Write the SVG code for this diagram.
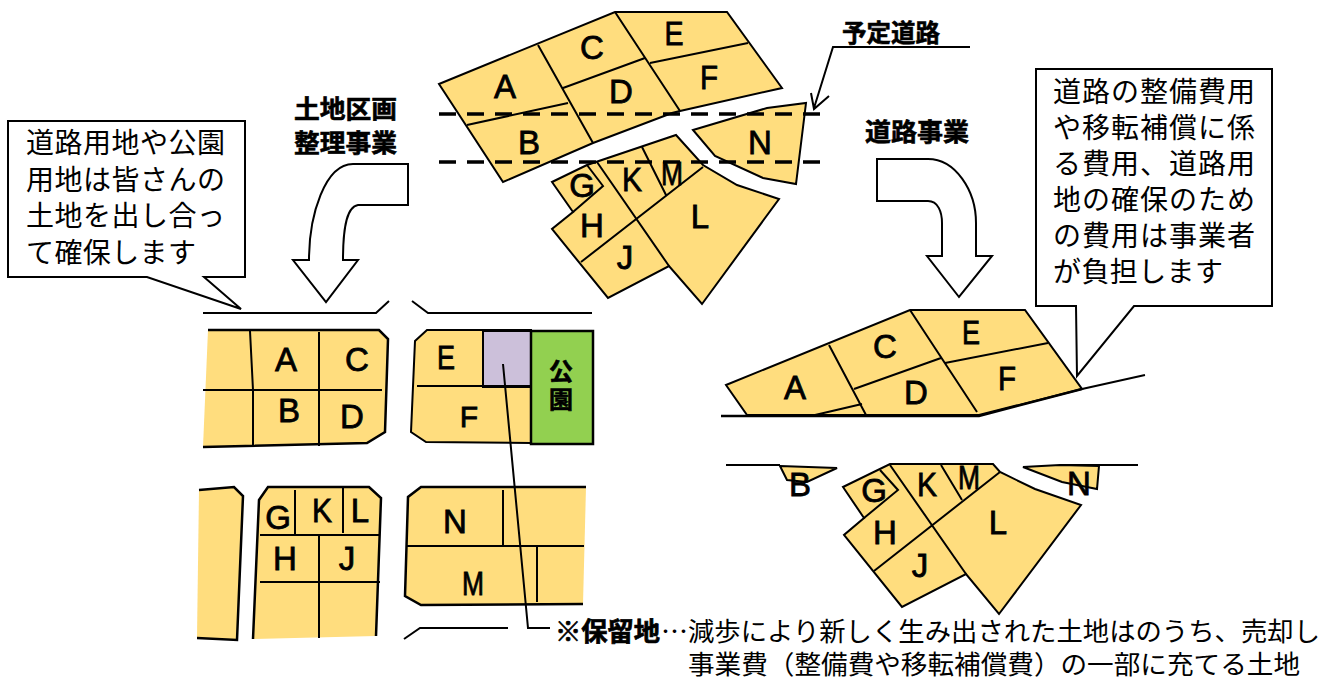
<svg xmlns="http://www.w3.org/2000/svg" width="1330" height="679" viewBox="0 0 1330 679">
<style>
.p{fill:#FFDD7E;stroke:#000;stroke-width:2;stroke-linejoin:miter}
.f{fill:#FFDD7E;stroke:none}
.l{fill:none;stroke:#000;stroke-width:2}
.t{fill:none;stroke:#000;stroke-width:2.5}
.d{fill:none;stroke:#000;stroke-width:3.5;stroke-dasharray:17 11}
.w{fill:#fff;stroke:#000;stroke-width:2}
text{font-family:"Liberation Sans",Arial,sans-serif;fill:#000}
.a{font-size:33px;text-anchor:middle;stroke:#000;stroke-width:.8}
.j{font-family:"Noto Sans CJK JP","Noto Sans",sans-serif;font-size:28px;font-weight:400}
.b{font-family:"Noto Sans CJK JP","Noto Sans",sans-serif;font-size:25px;font-weight:700;stroke:#000;stroke-width:.6}
.s{font-family:"Noto Sans CJK JP","Noto Sans",sans-serif;font-size:26px;font-weight:400}
</style>

<g id="plan-before">
<polygon class="p" points="439,84 615,12 727,12 782,88 680,111 672,113 593,143 503,182"/>
<path class="l" d="M538,45L593,143M615,12L680,111M563,88L645,58M650,63L748,43M467,125L568,103"/>
<polygon class="p" points="693,130 767,108 806,103 796,184 763,178 715,156"/>
<polygon class="p" points="552,182 587,165 676,135 703,165 737,185 779,199 702,304 669,266 608,298 552,229 573,212"/>
<path class="l" d="M587,165L603,186L573,212M597,162L669,266M642,147L666,195M703,167L581,262"/>
<text class="a" x="505" y="98">A</text><text class="a" x="592" y="59">C</text><text class="a" x="674" y="45" textLength="19" lengthAdjust="spacingAndGlyphs">E</text><text class="a" x="621" y="103">D</text><text class="a" x="709" y="89" textLength="18" lengthAdjust="spacingAndGlyphs">F</text><text class="a" x="529" y="154">B</text><text class="a" x="760" y="154">N</text><text class="a" x="582" y="197">G</text><text class="a" x="632" y="191" textLength="20" lengthAdjust="spacingAndGlyphs">K</text><text class="a" x="672" y="185" textLength="22" lengthAdjust="spacingAndGlyphs">M</text><text class="a" x="592" y="237">H</text><text class="a" x="700" y="228">L</text><text class="a" x="625" y="269">J</text>
<path class="d" d="M439,114H820M439,162H820"/>
</g>

<g id="label-yotei"><text class="b" x="842" y="42" textLength="98" lengthAdjust="spacingAndGlyphs">予定道路</text></g>
<g id="label-kukaku">
<text class="b" x="294" y="118" textLength="103" lengthAdjust="spacingAndGlyphs">土地区画</text>
<text class="b" x="294" y="152" textLength="103" lengthAdjust="spacingAndGlyphs">整理事業</text>
</g>
<g id="label-doro"><text class="b" x="865" y="141" textLength="104" lengthAdjust="spacingAndGlyphs">道路事業</text></g>

<g id="callout-left">
<polygon class="w" points="8,121 245,121 245,277 204,277 241,309 147,277 8,277"/>
<text class="j" x="26" y="153" textLength="199">道路用地や公園</text>
<text class="j" x="26" y="190" textLength="199">用地は皆さんの</text>
<text class="j" x="26" y="226" textLength="199">土地を出し合っ</text>
<text class="j" x="26" y="263" textLength="170">て確保します</text>
</g>

<g id="callout-right">
<polygon class="w" points="1036,69 1272,69 1272,306 1134,306 1077,376 1076,306 1036,306"/>
<text class="j" x="1053" y="102" textLength="202">道路の整備費用</text>
<text class="j" x="1053" y="138" textLength="202">や移転補償に係</text>
<text class="j" x="1053" y="174" textLength="202">る費用、道路用</text>
<text class="j" x="1053" y="210" textLength="202">地の確保のため</text>
<text class="j" x="1053" y="246" textLength="202">の費用は事業者</text>
<text class="j" x="1053" y="282" textLength="170">が負担します</text>
</g>

<g id="plan-kukaku">
<path class="l" d="M203,313H376L389,301M412,301L428,313H592M404,639L420,628H508"/>
<g id="block-ac">
<polygon class="f" points="208,330 379,330 388,339 385,432 367,443 203,447"/>
<path class="t" d="M208,330H379L388,339L385,432L367,443L203,447"/>
<path class="l" d="M250,331L253,390V445M319,332V446M203,390H382"/>
<text class="a" x="286" y="371">A</text><text class="a" x="357" y="371">C</text><text class="a" x="289" y="422">B</text><text class="a" x="352" y="428">D</text>
</g>
<g id="block-ef">
<polygon class="p" points="427,330 483,330 531,330 531,443 426,442 411,432 415,341"/>
<rect x="483" y="331" width="48" height="56" fill="#CCC0DA" stroke="#000" stroke-width="2"/>
<rect x="531" y="331" width="62" height="113" fill="#92D050" stroke="#000" stroke-width="2.5"/>
<path class="l" d="M417,386H531"/>
<text class="a" x="446" y="369" textLength="18" lengthAdjust="spacingAndGlyphs">E</text><text class="a" x="469" y="427" style="font-size:30px">F</text>
<text class="b" x="549" y="380" style="font-size:24px">公</text><text class="b" x="549" y="408" style="font-size:24px">園</text>
</g>
<g id="block-west">
<polygon class="f" points="199,490 234,487 243,496 237,640 197,638"/>
<path class="t" d="M199,490L234,487L243,496L237,640L197,638"/>
</g>
<g id="block-gkl">
<polygon class="f" points="268,487 369,488 381,498 376,636 253,639 259,500"/>
<path class="t" d="M253,639L259,500L268,487H369L381,498L376,636"/>
<path class="l" d="M260,535H379M260,582H380M295,490V535M343,488V533M319,536V638"/>
<text class="a" x="278" y="529">G</text><text class="a" x="322" y="522" textLength="20" lengthAdjust="spacingAndGlyphs">K</text><text class="a" x="360" y="522">L</text><text class="a" x="285" y="570">H</text><text class="a" x="347" y="570">J</text>
</g>
<g id="block-nm">
<polygon class="f" points="421,487 586,487 583,604 421,605 405,596 408,497"/>
<path class="t" d="M586,487H421L408,497L405,596L421,605L583,604"/>
<path class="l" d="M407,546H584M503,490V546M537,547V602"/>
<text class="a" x="455" y="533">N</text><text class="a" x="473" y="595" textLength="22" lengthAdjust="spacingAndGlyphs">M</text>
</g>
</g>

<g id="plan-doro">
<polygon class="p" points="726,385 910,310 1025,310 1082,389 979,415 747,415"/>
<path class="l" d="M829,345L866,415M910,310L977,412M854,389L941,358M945,363L1048,343M815,415L862,404"/>
<path class="t" d="M721,416H979L1082,389"/><path class="l" d="M1082,389L1145,375M726,465H780M1060,465H1138"/>
<polygon class="p" points="780,466 837,468 807,482 787,480"/>
<polygon class="p" points="843,487 890,464 993,464 1000,472 1035,489 1081,505 999,614 966,574 902,607 844,535 864,518"/>
<path class="l" d="M880,470L898,490L864,518M890,465L966,574M941,465L962,500M1000,472L874,571"/>
<polygon class="p" points="1023,467 1060,465 1099,466 1097,489 1062,482"/>
<text class="a" x="795" y="399">A</text><text class="a" x="885" y="358">C</text><text class="a" x="971" y="344" textLength="18" lengthAdjust="spacingAndGlyphs">E</text><text class="a" x="916" y="404">D</text><text class="a" x="1007" y="390" textLength="18" lengthAdjust="spacingAndGlyphs">F</text><text class="a" x="800" y="496">B</text><text class="a" x="874" y="502">G</text><text class="a" x="927" y="496" textLength="20" lengthAdjust="spacingAndGlyphs">K</text><text class="a" x="969" y="489" textLength="22" lengthAdjust="spacingAndGlyphs">M</text><text class="a" x="885" y="544">H</text><text class="a" x="998" y="534">L</text><text class="a" x="920" y="577">J</text><text class="a" x="1079" y="495">N</text>
</g>

<g id="connectors">
<path class="w" d="M408,164V205H358C345,207 343,235 343,260H358L326,302L293,260H309C309,215 325,164 353,164Z"/>
<path class="w" d="M877,159H928C955,159 976,190 976,223V256H992L959,297L927,256H942V223C942,212 938,201 928,201H877Z"/>
<path class="l" d="M970,47H833L814,108M811,93L814,109L829,96"/>
<path class="l" d="M503,364L528,628H550"/>
</g>

<g id="note">
<text class="s" x="555" y="641" style="font-weight:700;stroke:#000;stroke-width:.7" textLength="105" lengthAdjust="spacingAndGlyphs">※保留地</text>
<text class="s" x="661" y="641" textLength="27" lengthAdjust="spacingAndGlyphs">…</text>
<text class="s" x="688" y="641" textLength="632" lengthAdjust="spacingAndGlyphs">減歩により新しく生み出された土地はのうち、売却し</text>
<text class="s" x="688" y="674" textLength="612" lengthAdjust="spacingAndGlyphs">事業費（整備費や移転補償費）の一部に充てる土地</text>
</g>
</svg>
